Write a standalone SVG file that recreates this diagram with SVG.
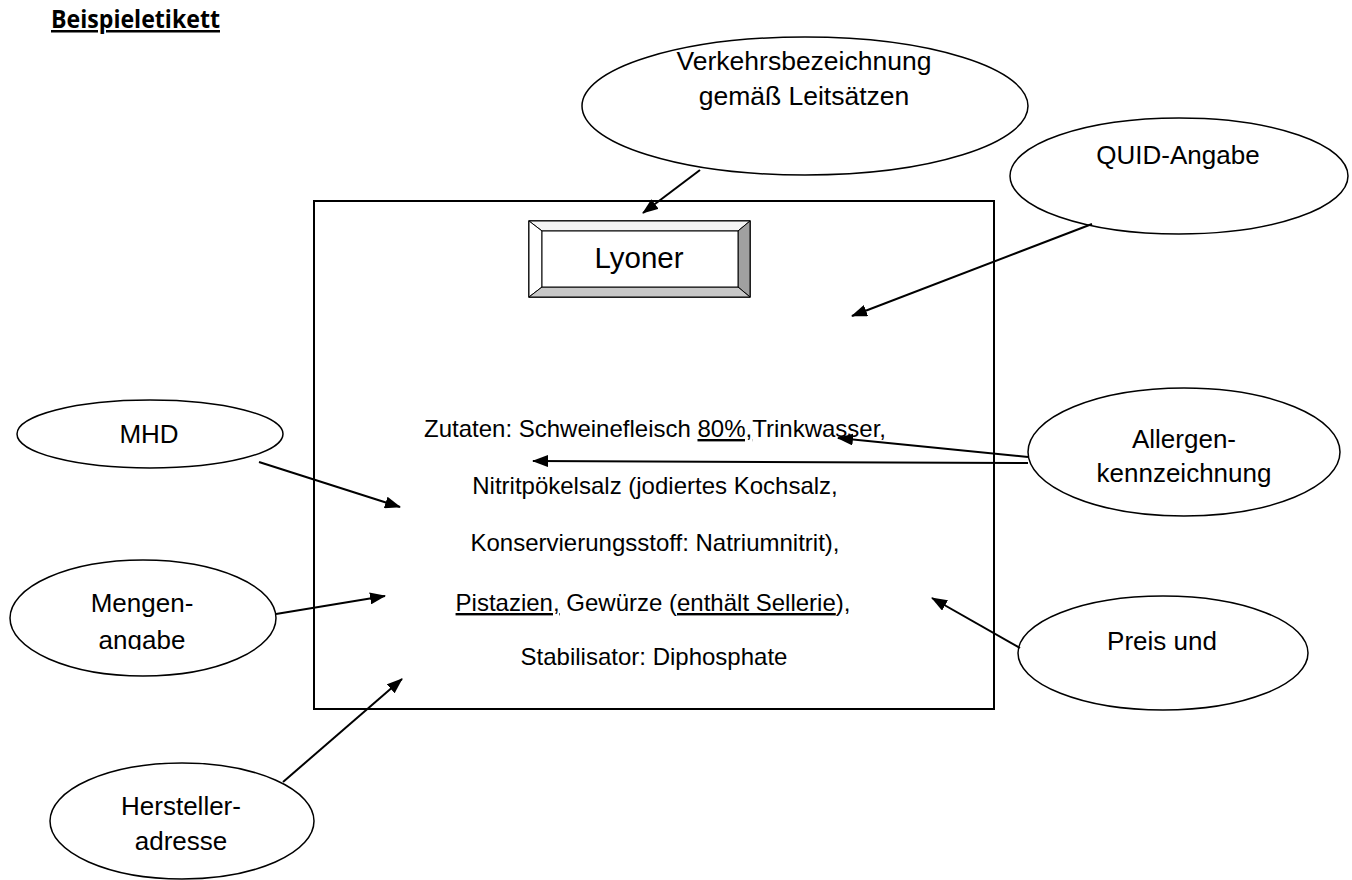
<svg xmlns="http://www.w3.org/2000/svg" width="1352" height="880" viewBox="0 0 1352 880">
<style>
text{font-family:"Liberation Sans",Arial,sans-serif;fill:#000}
.lbl{font-size:26px;text-anchor:middle}
.ing{font-size:24px;text-anchor:middle}
.ell{fill:#fff;stroke:#000;stroke-width:1.5}
.con{stroke:#000;stroke-width:2;fill:none;marker-end:url(#ah)}
.u{text-decoration:underline}
</style>
<defs>
<marker id="ah" markerWidth="16" markerHeight="12" refX="15" refY="6" orient="auto" markerUnits="userSpaceOnUse">
<path d="M0,0 L16,6 L0,12 Z" fill="#000"/>
</marker>
<clipPath id="cm"><rect x="0" y="550" width="300" height="100"/></clipPath>
</defs>
<rect width="1352" height="880" fill="#fff"/>
<text x="51" y="28" textLength="169" lengthAdjust="spacingAndGlyphs" style="font-family:'Open Sans','Noto Sans',sans-serif;font-size:25px;font-weight:bold" text-decoration="underline">Beispieletikett</text>

<g id="label">
<rect x="314" y="201" width="680" height="508" fill="none" stroke="#000" stroke-width="2"/>
</g>
<g id="lyoner">
<rect x="529" y="221" width="221" height="76" fill="#fff" stroke="#000" stroke-width="1.5"/>
<polygon points="529,221 750,221 738,231 542,231" fill="#f4f4f4" stroke="#000" stroke-width="1"/>
<polygon points="529,221 542,231 542,287 529,297" fill="#fff" stroke="#000" stroke-width="1"/>
<polygon points="750,221 750,297 738,287 738,231" fill="#a0a0a0" stroke="#000" stroke-width="1"/>
<polygon points="529,297 542,287 738,287 750,297" fill="#c8c8c8" stroke="#000" stroke-width="1"/>
<rect x="542" y="231" width="196" height="56" fill="#fff" stroke="#000" stroke-width="1"/>
<text x="639" y="268" style="font-size:29.5px" text-anchor="middle">Lyoner</text>
</g>
<g id="ingredients">
<text class="ing" x="655" y="437">Zutaten: Schweinefleisch <tspan class="u">80%,</tspan>Trinkwasser,</text>
<text class="ing" x="655" y="494">Nitritpökelsalz (jodiertes Kochsalz,</text>
<text class="ing" x="655" y="551">Konservierungsstoff: Natriumnitrit),</text>
<text class="ing" x="653" y="611"><tspan class="u">Pistazien,</tspan> Gewürze (<tspan class="u">enthält Sellerie</tspan>),</text>
<text class="ing" x="654" y="665">Stabilisator: Diphosphate</text>
</g>

<g id="verkehr">
<ellipse class="ell" cx="805" cy="106" rx="223" ry="69"/>
<text class="lbl" x="804" y="70" style="font-size:26.5px">Verkehrsbezeichnung</text>
<text class="lbl" x="804" y="105" style="font-size:26.5px">gemäß Leitsätzen</text>
</g>
<g id="quid">
<ellipse class="ell" cx="1179" cy="176" rx="169" ry="58"/>
<text class="lbl" x="1178" y="164">QUID-Angabe</text>
</g>
<g id="mhd">
<ellipse class="ell" cx="150" cy="434" rx="133" ry="34"/>
<text class="lbl" x="149" y="443">MHD</text>
</g>
<g id="mengen">
<ellipse class="ell" cx="143" cy="618" rx="133" ry="58"/>
<text class="lbl" x="142" y="612">Mengen-</text>
<text class="lbl" x="142" y="649" clip-path="url(#cm)">angabe</text>
</g>
<g id="hersteller">
<ellipse class="ell" cx="182" cy="821" rx="132" ry="58"/>
<text class="lbl" x="181" y="815">Hersteller-</text>
<text class="lbl" x="181" y="850">adresse</text>
</g>
<g id="allergen">
<ellipse class="ell" cx="1184" cy="452" rx="156" ry="64"/>
<text class="lbl" x="1184" y="448">Allergen-</text>
<text class="lbl" x="1184" y="482">kennzeichnung</text>
</g>
<g id="preis">
<ellipse class="ell" cx="1163" cy="653" rx="145" ry="57"/>
<text class="lbl" x="1162" y="650">Preis und</text>
</g>

<g id="connectors">
<line class="con" x1="700" y1="170" x2="643" y2="213"/>
<line class="con" x1="1092" y1="224" x2="852" y2="316"/>
<line class="con" x1="259" y1="462" x2="400" y2="507"/>
<line class="con" x1="276" y1="614" x2="385" y2="596"/>
<line class="con" x1="283" y1="782" x2="402" y2="679"/>
<line class="con" x1="1028" y1="463" x2="533" y2="461"/>
<line class="con" x1="1028" y1="457" x2="838" y2="438"/>
<line class="con" x1="1020" y1="648" x2="932" y2="598"/>
</g>
</svg>
